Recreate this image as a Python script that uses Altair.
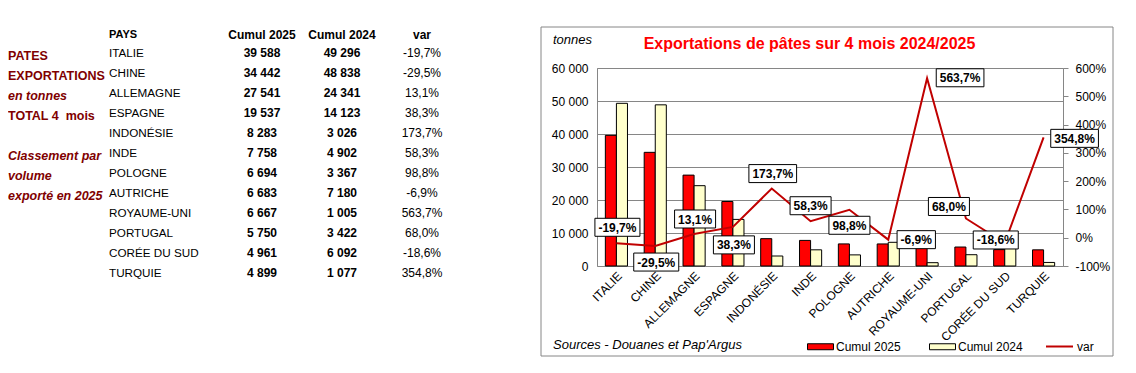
import altair as alt
import pandas as pd

# ---------------- data ----------------
countries = ["ITALIE", "CHINE", "ALLEMAGNE", "ESPAGNE", "INDONÉSIE", "INDE",
             "POLOGNE", "AUTRICHE", "ROYAUME-UNI", "PORTUGAL", "CORÉE DU SUD", "TURQUIE"]
cumul_2025 = [39588, 34442, 27541, 19537, 8283, 7758, 6694, 6683, 6667, 5750, 4961, 4899]
cumul_2024 = [49296, 48838, 24341, 14123, 3026, 4902, 3367, 7180, 1005, 3422, 6092, 1077]
var_pct = [-19.7, -29.5, 13.1, 38.3, 173.7, 58.3, 98.8, -6.9, 563.7, 68.0, -18.6, 354.8]
series_names = ["Cumul 2025", "Cumul 2024"]
headers = ["PAYS", "Cumul 2025", "Cumul 2024", "var"]
left_notes = ["PATES", "EXPORTATIONS", "en tonnes", "TOTAL 4\u00a0 mois",
              "Classement par", "volume", "exporté en 2025"]
note_rows = [1, 2, 3, 4, 6, 7, 8]
note_italic = [False, False, True, False, True, True, True]
tonnes_ticks = [0, 10000, 20000, 30000, 40000, 50000, 60000]
var_ticks = [-100, 0, 100, 200, 300, 400, 500, 600]
title_text = "Exportations de pâtes sur 4 mois 2024/2025"
unit_text = "tonnes"
source_text = "Sources - Douanes et Pap'Argus"

# label placement (pixel offsets from the point, style only)
label_offsets = [(1, -16), (1, 16), (1, -15), (1, 18), (1, -15), (0, -15.5),
                 (0, 15.5), (28, 0), (33, -0.5), (-17, -12), (-9, -3), (31, 1)]


def fr_int(v):
    return f"{v:,}".replace(",", " ")


def fr_pct(v):
    return f"{v:.1f}".replace(".", ",") + "%"


bars_df = pd.DataFrame(
    [{"country": c, "series": series_names[0], "value": a} for c, a in zip(countries, cumul_2025)]
    + [{"country": c, "series": series_names[1], "value": b} for c, b in zip(countries, cumul_2024)]
)
line_df = pd.DataFrame({"country": countries, "var": var_pct,
                        "label": [fr_pct(v) for v in var_pct], "s": ["var"] * len(countries)})
table_df = pd.DataFrame({
    "country": countries,
    "row": list(range(1, len(countries) + 1)),
    "c25": [fr_int(v) for v in cumul_2025],
    "c24": [fr_int(v) for v in cumul_2024],
    "vt": [fr_pct(v) for v in var_pct],
})
notes_df = pd.DataFrame({"note": left_notes, "row": note_rows, "it": note_italic})

GRAY = "#868686"
FONT = "Liberation Sans"

# ---------------- encodings ----------------
X = alt.X("country:N", sort=countries,
          scale=alt.Scale(domain=countries, paddingInner=0.43, paddingOuter=0.215),
          axis=alt.Axis(title=None, labelAngle=-45, labelFontSize=12, ticks=False, tickSize=0,
                        domain=False, labelPadding=4, labelColor="black", grid=False))

var_scale = alt.Scale(domain=[-100, 600], nice=False, zero=False)
row_scale = alt.Scale(domain=[1, 12], range=[-14.7, 205.3], nice=False, zero=False)

frame = alt.Chart(pd.DataFrame({"a": [0]})).mark_rect(
    fill="transparent", stroke=GRAY, strokeWidth=1
).encode(x=alt.value(-56), x2=alt.value(516), y=alt.value(-41), y2=alt.value(288))

bars = alt.Chart(bars_df).mark_bar(stroke="black", strokeWidth=1).encode(
    x=X,
    xOffset=alt.XOffset("series:N", sort=series_names,
                        scale=alt.Scale(domain=series_names, paddingInner=0, paddingOuter=0)),
    y=alt.Y("value:Q", scale=alt.Scale(domain=[0, 60000], nice=False),
            axis=alt.Axis(title=None, values=tonnes_ticks, grid=True, gridColor=GRAY,
                          domain=False, ticks=False, tickSize=0, labelPadding=9,
                          labelFontSize=12, labelColor="black",
                          labelExpr="replace(format(datum.value, ','), ',', ' ')")),
    fill=alt.Fill("series:N", scale=alt.Scale(domain=series_names, range=["#FF0000", "#FFFFCC"]),
                  legend=alt.Legend(orient="none", legendX=210, legendY=265, direction="horizontal",
                                    title=None, padding=0,
                                    symbolType="M-1,-0.23L1,-0.23L1,0.23L-1,0.23Z",
                                    symbolSize=676, symbolStrokeColor="black", symbolStrokeWidth=1,
                                    labelFontSize=12, labelOffset=2, columnPadding=26,
                                    labelColor="black")),
)

line = alt.Chart(line_df).mark_line(strokeWidth=2).encode(
    x=X,
    y=alt.Y("var:Q", scale=var_scale,
            axis=alt.Axis(title=None, orient="right", values=var_ticks, grid=False, domain=False,
                          ticks=True, tickSize=5, tickColor=GRAY, labelPadding=7,
                          labelFontSize=12, labelColor="black",
                          labelExpr="datum.value + '%'")),
    stroke=alt.Stroke("s:N", scale=alt.Scale(domain=["var"], range=["#C00000"]),
                      legend=alt.Legend(orient="none", legendX=448, legendY=264, title=None,
                                        padding=0, symbolType="stroke", symbolSize=729,
                                        symbolStrokeWidth=2, labelFontSize=12, labelOffset=3,
                                        labelColor="black")),
)

BOLD_W = {"-": 0.333, ",": 0.278, "%": 0.889}
label_layers = []
for i, c in enumerate(countries):
    dx, dy = label_offsets[i]
    txt = fr_pct(var_pct[i])
    w = sum(BOLD_W.get(ch, 0.556) for ch in txt) * 12 + 7
    h = 18
    k = h / w
    path = f"M-1,{-k:.4f}L1,{-k:.4f}L1,{k:.4f}L-1,{k:.4f}Z"
    base = alt.Chart(line_df).transform_filter(alt.datum.country == c)
    yv = alt.Y("var:Q", scale=var_scale, axis=None)
    label_layers.append(base.mark_point(shape=path, size=w * w, filled=True, fill="white",
                                        stroke="black", strokeWidth=1, opacity=1,
                                        xOffset=dx, yOffset=dy).encode(x=X, y=yv))
    label_layers.append(base.mark_text(fontSize=12, fontWeight="bold", color="black",
                                       xOffset=dx, yOffset=dy + 0.5, baseline="middle").encode(
        x=X, y=yv, text="label:N"))

# ---------------- table on the left ----------------
Yrow = alt.Y("row:Q", scale=row_scale, axis=None)
tab = alt.Chart(table_df)
t_country = tab.mark_text(align="left", baseline="middle", fontSize=11.7, color="black").encode(
    x=alt.value(-488), y=Yrow, text="country:N")
t_c25 = tab.mark_text(align="center", baseline="middle", fontSize=12, fontWeight="bold",
                      color="black").encode(x=alt.value(-335), y=Yrow, text="c25:N")
t_c24 = tab.mark_text(align="center", baseline="middle", fontSize=12, fontWeight="bold",
                      color="black").encode(x=alt.value(-255), y=Yrow, text="c24:N")
t_var = tab.mark_text(align="center", baseline="middle", fontSize=12,
                      color="black").encode(x=alt.value(-175), y=Yrow, text="vt:N")

header_x = [-488, -335, -255, -175]
header_layers = []
for j, hname in enumerate(headers):
    header_layers.append(
        alt.Chart(pd.DataFrame({"t": [hname]})).mark_text(
            align="left" if j == 0 else "center", baseline="middle",
            fontSize=11 if j == 0 else 12, fontWeight="bold", color="black"
        ).encode(x=alt.value(header_x[j]), y=alt.value(-33), text="t:N"))

notes_up = alt.Chart(notes_df).transform_filter("!datum.it").mark_text(
    align="left", baseline="middle", fontSize=12.5, fontWeight="bold", color="#800000", yOffset=3
).encode(x=alt.value(-589), y=Yrow, text="note:N")
notes_it = alt.Chart(notes_df).transform_filter("datum.it").mark_text(
    align="left", baseline="middle", fontSize=12.5, fontWeight="bold", fontStyle="italic",
    color="#800000", yOffset=3
).encode(x=alt.value(-589), y=Yrow, text="note:N")

title = alt.Chart(pd.DataFrame({"t": [title_text]})).mark_text(
    align="center", baseline="middle", fontSize=16, fontWeight="bold", color="#FF0000"
).encode(x=alt.value(212.5), y=alt.value(-24), text="t:N")
unit = alt.Chart(pd.DataFrame({"t": [unit_text]})).mark_text(
    align="left", baseline="middle", fontSize=13, fontStyle="italic", color="black"
).encode(x=alt.value(-44), y=alt.value(-28), text="t:N")
source = alt.Chart(pd.DataFrame({"t": [source_text]})).mark_text(
    align="left", baseline="middle", fontSize=13, fontStyle="italic", color="black"
).encode(x=alt.value(-44), y=alt.value(277), text="t:N")

chart = alt.layer(
    frame, bars, line, *label_layers, t_country, t_c25, t_c24, t_var, *header_layers,
    notes_up, notes_it, title, unit, source
).resolve_scale(y="independent").properties(
    width=466, height=198,
    autosize=alt.AutoSizeParams(type="none"),
    padding={"left": 589, "top": 60, "right": 60, "bottom": 100},
    background="white",
).configure(font=FONT).configure_view(stroke=GRAY, strokeWidth=1)

chart.save("out.html", embed_options={"renderer": "svg", "actions": False})
